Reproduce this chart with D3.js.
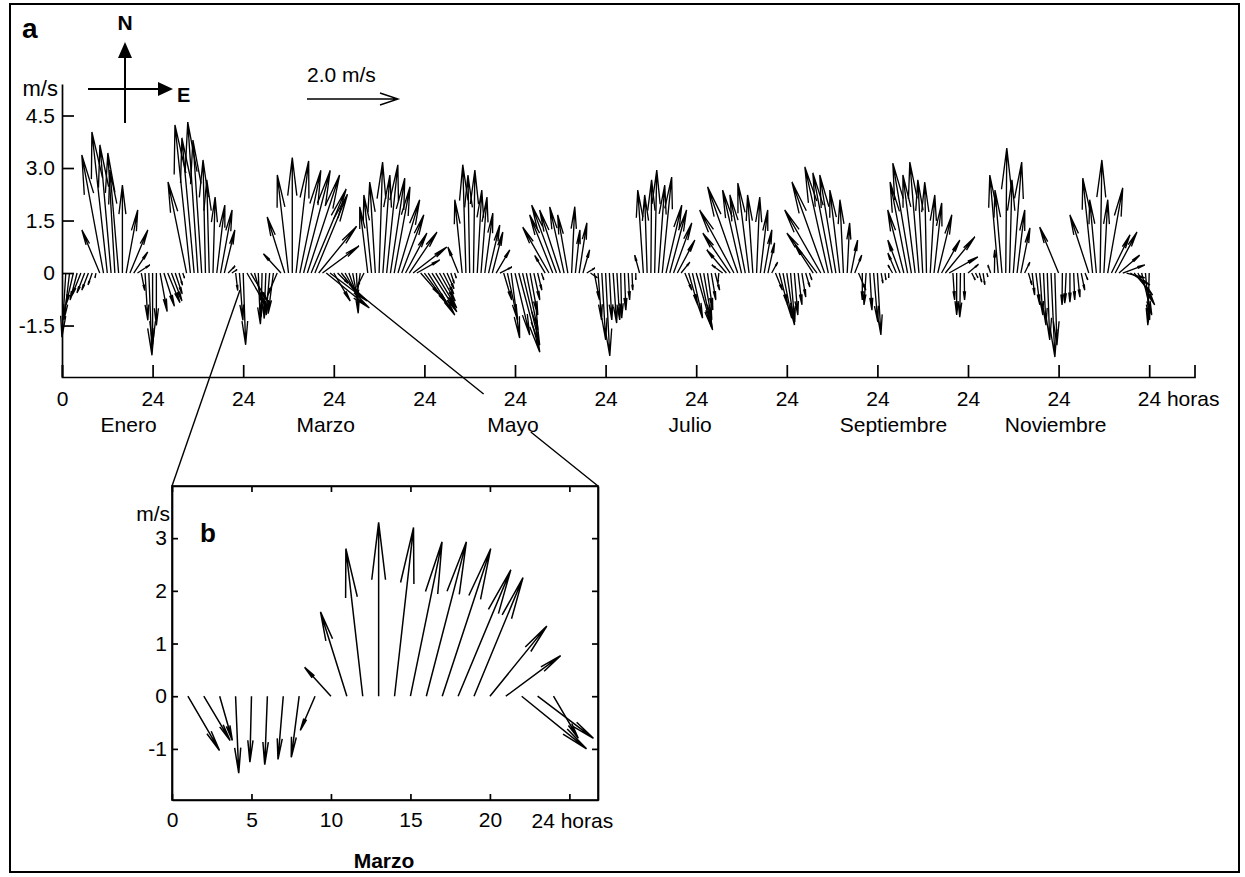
<!DOCTYPE html>
<head>
  <meta charset="utf-8">
  <script src="https://d3js.org/d3.v7.min.js"></script>
  <style>
    body { margin: 0; background: #fff; }
    svg text { font-family: Arial, 'Liberation Sans', sans-serif; fill: #000; }
    .axis text { font-size: 21px; }
    .axis path, .axis line { stroke: #000; stroke-width: 1.7; }
    .bold { font-weight: bold; }
    .vec { fill: none; stroke: #000; stroke-width: 1.35; }
    .vec.b { stroke-width: 1.5; }
    .guide { fill: none; stroke: #000; stroke-width: 1.4; }
  </style>
</head>

<body>
  <svg id="chart" width="1245" height="877"></svg>
  <script>
    // hourly mean wind vectors [u (east), v (north)] in m/s, hours 1..24
    var enero = [[-0.11,-1.83],[-0.16,-1.34],[-0.21,-0.91],[-0.20,-0.77],[-0.25,-0.63],[-0.22,-0.57],[-0.19,-0.49],[-0.12,-0.34],
      [-0.03,-0.14],[-0.51,1.23],[-0.62,3.37],[-0.44,4.03],[-0.32,3.66],[-0.20,3.43],[-0.25,2.94],[0.00,2.51],
      [0.33,1.80],[0.51,1.23],[0.40,0.60],[0.35,0.23],[0.10,-0.50],[0.08,-1.35],[0.09,-2.35],[0.00,-2.05]];
    var febrero = [[0.00,-1.50],[0.20,-1.10],[0.30,-0.95],[0.35,-0.85],[0.30,-0.80],[0.20,-0.60],[0.10,-0.35],[0.05,-0.15],
      [-0.53,2.60],[-0.44,4.23],[-0.35,3.86],[-0.29,4.31],[-0.25,3.80],[-0.07,3.23],[-0.07,2.66],[0.06,2.17],
      [0.23,1.94],[0.33,1.80],[0.30,1.23],[0.20,0.20],[0.15,0.10],[0.06,-0.50],[0.10,-1.35],[0.07,-2.05]];
    var marzo = [[0.60,-1.03],[0.50,-0.84],[0.24,-0.84],[0.06,-1.46],[-0.03,-1.25],[-0.05,-1.30],[-0.10,-1.20],[-0.15,-1.16],
      [-0.28,-0.65],[-0.50,0.55],[-0.50,1.60],[-0.32,2.80],[0.00,3.30],[0.36,3.20],[0.60,2.93],[0.76,2.93],
      [0.92,2.80],[1.00,2.40],[0.93,2.25],[1.08,1.33],[1.04,0.77],[1.23,-1.00],[1.06,-0.80],[0.47,-0.80]];
    var abril = [[0.30,-0.30],[0.35,-0.45],[0.30,-0.55],[0.25,-0.70],[0.15,-0.80],[0.05,-1.15],[-0.10,-0.70],[-0.20,-0.40],
      [-0.23,1.89],[-0.22,2.23],[-0.16,2.60],[0.10,3.17],[0.20,2.80],[0.32,3.09],[0.41,2.71],[0.45,2.46],
      [0.62,2.09],[0.63,1.66],[0.61,1.14],[0.79,1.17],[0.96,0.74],[0.65,0.37],[0.55,-0.63],[0.67,-0.91]];
    var mayo = [[0.76,-1.20],[0.71,-1.11],[0.60,-1.00],[0.45,-0.80],[0.30,-0.60],[0.20,-0.45],[0.10,-0.30],[0.05,-0.15],
      [-0.30,0.74],[-0.21,2.09],[-0.09,3.09],[-0.05,2.80],[0.04,2.94],[0.13,2.37],[0.17,2.17],[0.23,1.71],
      [0.32,1.37],[0.30,1.17],[0.39,0.66],[0.34,0.17],[0.23,-0.77],[0.29,-1.34],[0.24,-1.86],[0.42,-1.77]];
    var junio = [[0.60,-2.26],[0.49,-2.06],[0.33,-1.63],[0.22,-1.20],[0.17,-0.77],[0.12,-0.49],[0.07,-0.20],[-0.30,0.50],
      [-0.75,1.31],[-0.66,1.66],[-0.71,1.94],[-0.59,1.80],[-0.41,1.89],[-0.29,1.66],[0.09,1.89],[0.13,1.23],
      [0.22,1.43],[0.19,0.66],[0.23,0.14],[0.20,-0.14],[0.15,-0.77],[0.10,-1.34],[0.11,-1.91],[0.12,-2.37]];
    var julio = [[0.07,-1.34],[0.10,-1.43],[0.08,-1.34],[0.03,-1.29],[0.04,-1.06],[0.04,-0.77],[0.02,-0.49],[0.00,-0.20],
      [-0.14,0.51],[-0.16,2.37],[-0.07,2.23],[0.02,2.66],[0.06,2.94],[0.18,2.51],[0.27,2.74],[0.45,1.94],
      [0.48,1.80],[0.52,1.43],[0.50,0.94],[0.25,0.31],[0.20,-0.49],[0.26,-0.91],[0.29,-1.29],[0.47,-1.63]];
    var agosto = [[0.34,-1.57],[0.23,-1.34],[0.15,-1.06],[0.13,-0.77],[0.13,-0.49],[-0.03,-0.29],[-0.31,0.23],[-0.56,0.66],
      [-0.78,1.14],[-0.98,1.80],[-0.86,2.46],[-0.54,2.37],[-0.44,2.23],[-0.32,2.57],[-0.15,2.23],[0.09,2.17],
      [0.21,1.80],[0.22,1.23],[0.19,0.86],[0.17,0.31],[0.20,-0.49],[0.24,-0.91],[0.25,-1.29],[0.22,-1.49]];
    var septiembre = [[0.12,-1.40],[0.10,-1.20],[0.11,-0.91],[0.11,-0.69],[0.12,-0.40],[0.07,-0.20],[-0.52,0.80],[-0.86,1.14],
      [-1.03,1.80],[-0.93,2.60],[-0.67,3.03],[-0.55,2.86],[-0.46,2.80],[-0.28,2.37],[-0.10,2.09],[0.07,1.43],
      [0.19,0.94],[0.20,0.51],[0.21,-0.49],[0.00,-0.77],[-0.06,-0.91],[0.06,-1.06],[0.12,-1.40],[0.10,-1.77]];
    var octubre = [[0.05,-0.29],[0.03,-0.20],[0.00,-0.14],[-0.13,0.23],[-0.24,0.57],[-0.35,0.94],[-0.46,1.80],[-0.50,2.60],
      [-0.53,3.14],[-0.35,2.80],[-0.26,3.17],[-0.14,2.66],[-0.05,2.60],[0.13,2.23],[0.22,2.00],[0.40,1.66],
      [0.52,0.94],[0.84,1.03],[0.82,0.46],[0.05,-0.77],[0.00,-1.20],[-0.02,-1.26],[0.01,-0.77],[0.30,0.25]];
    var noviembre = [[0.10,-0.20],[0.07,-0.14],[0.07,-0.26],[0.05,-0.34],[0.03,-0.11],[-0.08,0.23],[0.01,0.66],[-0.24,2.80],
      [-0.20,2.37],[0.03,3.57],[0.07,2.66],[0.24,3.17],[0.22,1.80],[0.26,1.29],[0.15,0.31],[0.10,-0.34],
      [0.07,-0.63],[0.11,-0.91],[0.09,-1.20],[0.07,-1.49],[0.07,-1.91],[0.11,-2.40],[0.06,-2.06],[-0.54,1.31]];
    var diciembre = [[-0.01,-0.91],[-0.04,-0.86],[0.00,-0.83],[0.03,-0.77],[0.07,-0.69],[0.10,-0.49],[0.08,-0.20],[-0.54,1.66],
      [-0.28,2.71],[-0.19,2.09],[0.05,3.23],[0.11,2.09],[0.43,2.43],[0.53,1.09],[0.62,1.17],[0.59,0.51],
      [0.63,0.23],[0.52,-0.14],[0.56,-0.34],[0.53,-0.63],[0.48,-0.91],[0.29,-1.20],[0.12,-1.34],[-0.04,-1.49]];

    var months = [enero, febrero, marzo, abril, mayo, junio, julio, agosto, septiembre, octubre, noviembre, diciembre];
    var monthLabels = ['Enero', 'Marzo', 'Mayo', 'Julio', 'Septiembre', 'Noviembre'];
    var monthLabelIdx = [0, 2, 4, 6, 8, 10];
    var yTicksA = [-1.5, 0, 1.5, 3.0, 4.5];
    var yLabelsA = ['-1.5', '0', '1.5', '3.0', '4.5'];
    var xTicksA = d3.range(0, 289, 24);
    var xTicksB = [0, 5, 10, 15, 20, 25];
    var xLabelsB = ['0', '5', '10', '15', '20', ''];
    var yTicksB = [-1, 0, 1, 2, 3];
    var yLabelsB = ['-1', '0', '1', '2', '3'];

    var chart = d3.select('#chart');

    // quiver style arrow, u/v scaled by k px per m/s
    var arrow = (x0, y0, u, v, k) => {
      var dx = u * k, dy = -v * k;
      var x1 = x0 + dx, y1 = y0 + dy;
      var a = 0.33, b = 0.12;
      return 'M' + x0 + ',' + y0 + 'L' + x1 + ',' + y1 +
        'M' + (x1 - a * (dx + b * dy)) + ',' + (y1 - a * (dy - b * dx)) +
        'L' + x1 + ',' + y1 +
        'L' + (x1 - a * (dx - b * dy)) + ',' + (y1 - a * (dy + b * dx));
    };

    chart.append('rect')
      .attr('x', 10).attr('y', 4).attr('width', 1229).attr('height', 868)
      .attr('fill', 'none').attr('stroke', '#000').attr('stroke-width', 2);

    // ---- panel a ----
    var xa = d3.scaleLinear().domain([0, 300]).range([62, 1194.5]);
    var ya = d3.scaleLinear().domain([-2.97, 5.4]).range([377, 84]);
    var ka = ya(0) - ya(1);

    var recs = [];
    months.forEach((m, i) => m.forEach((d, h) => recs.push({ t: i * 24 + h + 1, u: d[0], v: d[1] })));

    chart.append('g')
      .selectAll('path')
      .data(recs)
      .enter().append('path')
      .attr('class', 'vec')
      .attr('d', (d) => arrow(xa(d.t), ya(0), d.u, d.v, ka));

    chart.append('g')
      .attr('class', 'axis')
      .attr('transform', 'translate(' + xa(0) + ',0)')
      .call(d3.axisLeft(ya).tickValues(yTicksA).tickSizeInner(-12).tickSizeOuter(0).tickPadding(7)
        .tickFormat((d, i) => yLabelsA[i]));

    var xAxisA = chart.append('g')
      .attr('class', 'axis')
      .attr('transform', 'translate(0,' + ya.range()[0] + ')')
      .call(d3.axisBottom(xa).tickValues(xTicksA).tickSizeInner(-12).tickSizeOuter(-12).tickPadding(14)
        .tickFormat((d) => d === 0 ? '0' : '24'));
    xAxisA.selectAll('.tick text')
      .filter((d) => d === 288)
      .attr('text-anchor', 'start')
      .attr('x', -12)
      .text('24 horas');

    var labelNudge = [-24, -8, -2, -6, 16, -3];
    chart.append('g')
      .selectAll('text')
      .data(monthLabels)
      .enter().append('text')
      .attr('x', (d, i) => xa((monthLabelIdx[i] + 1) * 24) + labelNudge[i])
      .attr('y', 432)
      .attr('text-anchor', 'middle')
      .attr('font-size', 21)
      .text((d) => d);

    chart.append('text').attr('x', 58).attr('y', 96).attr('text-anchor', 'end').attr('font-size', 22).text('m/s');
    chart.append('text').attr('class', 'bold').attr('x', 22).attr('y', 38).attr('font-size', 28).text('a');

    // compass
    chart.append('line').attr('x1', 125).attr('y1', 123).attr('x2', 125).attr('y2', 56).attr('stroke', '#000').attr('stroke-width', 2);
    chart.append('path').attr('d', 'M125,42L118,58L132,58Z').attr('fill', '#000');
    chart.append('line').attr('x1', 88).attr('y1', 89).attr('x2', 160).attr('y2', 89).attr('stroke', '#000').attr('stroke-width', 2);
    chart.append('path').attr('d', 'M173,89L158,82L158,96Z').attr('fill', '#000');
    chart.append('text').attr('class', 'bold').attr('x', 125).attr('y', 30).attr('text-anchor', 'middle').attr('font-size', 21).text('N');
    chart.append('text').attr('class', 'bold').attr('x', 177).attr('y', 102).attr('font-size', 20).text('E');

    // reference vector
    chart.append('text').attr('x', 307).attr('y', 82).attr('font-size', 21).text('2.0 m/s');
    chart.append('path').attr('class', 'guide').attr('d', 'M307,99L398,99M380,93L398,99L380,105');

    // ---- panel b ----
    var xb = d3.scaleLinear().domain([0, 26.8]).range([172, 598]);
    var yb = d3.scaleLinear().domain([-1.97, 3.99]).range([800, 486]);
    var kb = yb(0) - yb(1);

    chart.append('rect')
      .attr('x', xb(0)).attr('y', yb.range()[1])
      .attr('width', xb.range()[1] - xb(0)).attr('height', yb.range()[0] - yb.range()[1])
      .attr('fill', 'none').attr('stroke', '#000').attr('stroke-width', 1.6);

    chart.append('g')
      .selectAll('path')
      .data(marzo)
      .enter().append('path')
      .attr('class', 'vec b')
      .attr('d', (d, h) => arrow(xb(h + 1), yb(0), d[0], d[1], kb));

    chart.append('g')
      .attr('class', 'axis')
      .attr('transform', 'translate(' + xb(0) + ',0)')
      .call(d3.axisLeft(yb).tickValues(yTicksB).tickSizeInner(-6).tickSizeOuter(0).tickPadding(5)
        .tickFormat((d, i) => yLabelsB[i]));
    chart.append('g')
      .attr('class', 'axis')
      .attr('transform', 'translate(' + xb.range()[1] + ',0)')
      .call(d3.axisRight(yb).tickValues(yTicksB).tickSizeInner(-6).tickSizeOuter(0).tickFormat(''));
    chart.append('g')
      .attr('class', 'axis')
      .attr('transform', 'translate(0,' + yb.range()[0] + ')')
      .call(d3.axisBottom(xb).tickValues(xTicksB).tickSizeInner(-6).tickSizeOuter(0).tickPadding(12)
        .tickFormat((d, i) => xLabelsB[i]));
    chart.append('g')
      .attr('class', 'axis')
      .attr('transform', 'translate(0,' + yb.range()[1] + ')')
      .call(d3.axisTop(xb).tickValues(xTicksB).tickSizeInner(-6).tickSizeOuter(0).tickFormat(''));

    chart.append('text').attr('x', xb(24) - 22).attr('y', 828).attr('font-size', 21).text('24 horas');
    chart.append('text').attr('x', 170).attr('y', 521).attr('text-anchor', 'end').attr('font-size', 21).text('m/s');
    chart.append('text').attr('class', 'bold').attr('x', 200).attr('y', 542).attr('font-size', 26).text('b');
    chart.append('text').attr('class', 'bold').attr('x', 384).attr('y', 868).attr('text-anchor', 'middle').attr('font-size', 21).text('Marzo');

    // zoom guide lines from panel a to panel b
    chart.append('path').attr('class', 'guide').attr('d', 'M240,290L' + xb(0) + ',486');
    chart.append('path').attr('class', 'guide').attr('d', 'M358,293L483.6,394M530.8,432L598,486');
  </script>
</body>

</html>
